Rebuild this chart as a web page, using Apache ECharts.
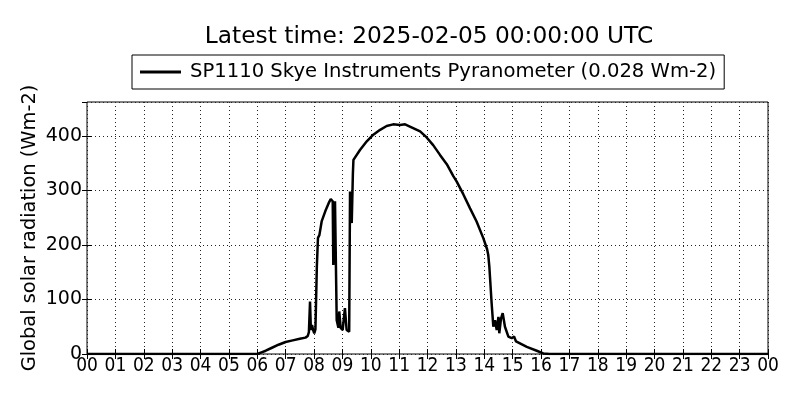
<!DOCTYPE html>
<html>
<head>
<meta charset="utf-8">
<script src="https://cdn.jsdelivr.net/npm/echarts@6/dist/echarts.min.js"></script>
<style>html,body{margin:0;padding:0;background:#fff;}#c{width:800px;height:400px;}</style>
</head>
<body>
<div id="c"></div>
<script>
const titleText = 'Latest time: 2025-02-05 00:00:00 UTC';
const seriesName = 'SP1110 Skye Instruments Pyranometer (0.028 Wm-2)';
const yAxisName = 'Global solar radiation (Wm-2)';
const hours = [0, 6.0, 6.15, 6.3, 6.5, 6.75, 7.0, 7.25, 7.5, 7.7, 7.78, 7.82, 7.86, 7.89, 7.93, 7.97, 8.01, 8.05, 8.1, 8.14, 8.19, 8.27, 8.4, 8.52, 8.59, 8.66, 8.68, 8.74, 8.8, 8.86, 8.89, 8.94, 9.01, 9.09, 9.15, 9.24, 9.27, 9.33, 9.37, 9.39, 9.62, 9.86, 10.09, 10.33, 10.56, 10.79, 11.03, 11.21, 11.38, 11.74, 11.97, 12.2, 12.44, 12.68, 12.91, 13.03, 13.26, 13.5, 13.73, 13.97, 14.1, 14.14, 14.18, 14.2, 14.26, 14.32, 14.38, 14.44, 14.5, 14.53, 14.59, 14.65, 14.73, 14.85, 14.97, 15.05, 15.12, 15.5, 15.85, 16.08, 16.3, 24];
const radiation = [0, 0, 3, 6, 11, 17, 22, 25, 28, 30, 33, 40, 96, 44, 53, 44, 38, 45, 160, 213, 218, 243, 262, 277, 284, 280, 163, 280, 62, 48, 78, 48, 44, 84, 44, 41, 298, 240, 330, 356, 374, 390, 402, 411, 418, 421, 420, 421, 417, 408, 397, 383, 365, 348, 326, 316, 293, 267, 243, 212, 192, 182, 160, 163, 93, 50, 62, 44, 68, 38, 65, 75, 50, 32, 29, 32, 23, 13, 6, 1, 0, 0];
const hourLabels = ['00','01','02','03','04','05','06','07','08','09','10','11','12','13','14','15','16','17','18','19','20','21','22','23','00'];
const yTicks = [0, 100, 200, 300, 400];

const data = hours.map((h, i) => [h, radiation[i]]);
const font = 'DejaVu Sans';
const chart = echarts.init(document.getElementById('c'), null, {renderer: 'canvas'});
const grid = {left: 87, right: 32, top: 102, bottom: 46, show: true, borderColor: '#000', borderWidth: 1, backgroundColor: 'transparent'};
const dotted = {color: '#222', width: 1, type: [1, 3]};
chart.setOption({
  backgroundColor: '#fff',
  animation: false,
  title: {text: titleText, left: 424, textAlign: 'center', top: 20, textStyle: {fontFamily: font, fontSize: 23.3, fontWeight: 'normal', color: '#000'}},
  legend: {
    left: 132, top: 55, orient: 'horizontal',
    borderColor: '#000', borderWidth: 1, padding: [6, 8, 6, 8],
    icon: 'rect', itemWidth: 41, itemHeight: 3,
    textStyle: {fontFamily: font, fontSize: 19.6, color: '#000', padding: [0, 0, 0, 4], lineHeight: 22},
    data: [seriesName]
  },
  grid: grid,
  xAxis: [{
    type: 'value', min: 0, max: 24, interval: 1, position: 'bottom',
    axisLine: {show: false},
    axisTick: {show: true, inside: true, length: 5, lineStyle: {color: '#000'}},
    axisLabel: {margin: 3, color: '#000', fontFamily: '"DejaVu Sans Condensed", "DejaVu Sans"', fontSize: 19, formatter: v => hourLabels[Math.round(v)], showMinLabel: true, showMaxLabel: true},
    splitLine: {show: true, lineStyle: dotted}
  }, {
    type: 'value', min: 0, max: 24, interval: 1, position: 'top',
    axisLine: {show: false},
    axisTick: {show: true, inside: true, length: 5, lineStyle: {color: '#000'}},
    axisLabel: {show: false}, splitLine: {show: false}
  }],
  yAxis: [{
    type: 'value', min: 0, max: 462, interval: 100, position: 'left',
    name: yAxisName, nameLocation: 'middle', nameGap: 48, nameRotate: 90, nameMoveOverlap: false,
    nameTextStyle: {fontFamily: font, fontSize: 19.4, color: '#000'},
    axisLine: {show: false},
    axisTick: {show: true, inside: true, length: 5, lineStyle: {color: '#000'}},
    axisLabel: {margin: 5, color: '#000', fontFamily: font, fontSize: 19, showMaxLabel: false, formatter: v => yTicks.includes(v) ? String(v) : ''},
    splitLine: {show: true, lineStyle: dotted}
  }, {
    type: 'value', min: 0, max: 462, interval: 100, position: 'right',
    axisLine: {show: false},
    axisTick: {show: true, inside: true, length: 5, lineStyle: {color: '#000'}},
    axisLabel: {show: false}, splitLine: {show: false}
  }],
  series: [{
    name: seriesName, type: 'line', data: data, showSymbol: false, symbol: 'none',
    xAxisIndex: 0, yAxisIndex: 0,
    lineStyle: {color: '#000', width: 2.5}, itemStyle: {color: '#000'}
  }]
});
</script>
</body>
</html>
